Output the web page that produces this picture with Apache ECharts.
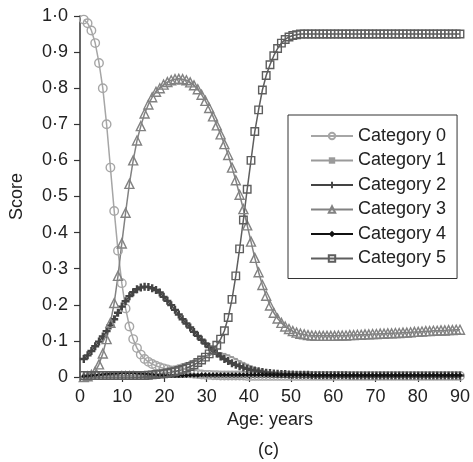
<!DOCTYPE html>
<html>
<head>
<meta charset="utf-8">
<script src="https://cdn.jsdelivr.net/npm/echarts@6/dist/echarts.min.js"></script>
<style>
  html, body { margin: 0; padding: 0; background: #fff; }
  #chart { width: 473px; height: 462px; }
</style>
</head>
<body>
<div id="chart"></div>
<script>
// ages: 100 samples from 0.9 to 90 years
const ages = Array.from({ length: 100 }, (_, i) => +((i + 1) * 0.9).toFixed(1));

const seriesNames = ['Category 0', 'Category 1', 'Category 2', 'Category 3', 'Category 4', 'Category 5'];

const cat0 = [
  0.99, 0.98, 0.96, 0.925, 0.87, 0.80, 0.70, 0.58, 0.46, 0.35,
  0.26, 0.19, 0.14, 0.105, 0.08, 0.062, 0.05, 0.042, 0.036, 0.031,
  0.027, 0.024, 0.021, 0.018, 0.016, 0.014, 0.012, 0.011, 0.010, 0.009,
  0.008, 0.007, 0.006, 0.006, 0.005, 0.005, 0.004, 0.004, 0.004, 0.004,
  0.004, 0.004, 0.004, 0.003, 0.003, 0.003, 0.003, 0.003, 0.003, 0.003,
  0.003, 0.003, 0.003, 0.003, 0.003, 0.003, 0.003, 0.003, 0.003, 0.003,
  0.003, 0.003, 0.003, 0.003, 0.003, 0.003, 0.003, 0.003, 0.003, 0.003,
  0.003, 0.003, 0.003, 0.003, 0.003, 0.003, 0.003, 0.003, 0.003, 0.003,
  0.003, 0.003, 0.003, 0.003, 0.003, 0.003, 0.003, 0.003, 0.003, 0.003,
  0.003, 0.003, 0.003, 0.003, 0.003, 0.003, 0.003, 0.003, 0.003, 0.003
];

const cat1 = [
  0.002, 0.002, 0.002, 0.002, 0.002, 0.002, 0.002, 0.002, 0.002, 0.002,
  0.002, 0.002, 0.002, 0.003, 0.003, 0.004, 0.006, 0.008, 0.011, 0.014,
  0.017, 0.020, 0.023, 0.026, 0.029, 0.032, 0.035, 0.038, 0.041, 0.045,
  0.049, 0.053, 0.057, 0.061, 0.064, 0.066, 0.066, 0.064, 0.060, 0.055,
  0.050, 0.044, 0.039, 0.034, 0.029, 0.025, 0.021, 0.018, 0.015, 0.013,
  0.011, 0.010, 0.009, 0.008, 0.007, 0.006, 0.006, 0.006, 0.006, 0.006,
  0.005, 0.005, 0.005, 0.005, 0.005, 0.005, 0.005, 0.005, 0.005, 0.005,
  0.005, 0.005, 0.005, 0.005, 0.005, 0.005, 0.005, 0.005, 0.005, 0.005,
  0.005, 0.005, 0.005, 0.005, 0.005, 0.005, 0.005, 0.005, 0.005, 0.005,
  0.005, 0.005, 0.005, 0.005, 0.005, 0.005, 0.005, 0.005, 0.005, 0.005
];

const cat2 = [
  0.05, 0.06, 0.072, 0.085, 0.098, 0.112, 0.127, 0.143, 0.16, 0.178,
  0.195, 0.21, 0.224, 0.235, 0.243, 0.248, 0.25, 0.249, 0.246, 0.241,
  0.234, 0.222, 0.211, 0.199, 0.186, 0.173, 0.16, 0.148, 0.137, 0.125,
  0.114, 0.103, 0.093, 0.083, 0.074, 0.065, 0.057, 0.05, 0.044, 0.038,
  0.034, 0.030, 0.026, 0.023, 0.020, 0.018, 0.016, 0.014, 0.012, 0.011,
  0.010, 0.009, 0.008, 0.008, 0.007, 0.007, 0.006, 0.006, 0.006, 0.006,
  0.005, 0.005, 0.005, 0.005, 0.005, 0.005, 0.005, 0.005, 0.005, 0.005,
  0.004, 0.004, 0.004, 0.004, 0.004, 0.004, 0.004, 0.004, 0.004, 0.004,
  0.004, 0.004, 0.004, 0.004, 0.004, 0.004, 0.004, 0.004, 0.004, 0.004,
  0.004, 0.004, 0.004, 0.004, 0.004, 0.004, 0.004, 0.004, 0.004, 0.004
];

const cat3 = [
  0.0, 0.002, 0.006, 0.015, 0.035, 0.065, 0.105, 0.15, 0.205, 0.28,
  0.37, 0.455, 0.535, 0.60, 0.655, 0.695, 0.73, 0.755, 0.775, 0.79,
  0.80, 0.81, 0.817, 0.822, 0.825, 0.826, 0.825, 0.822, 0.816, 0.808,
  0.797, 0.782, 0.765, 0.745, 0.722, 0.697, 0.672, 0.645, 0.615, 0.58,
  0.545, 0.505, 0.465, 0.42, 0.375, 0.33, 0.29, 0.255, 0.225, 0.198,
  0.178, 0.162, 0.15, 0.14, 0.133, 0.127, 0.123, 0.12, 0.118, 0.116,
  0.115, 0.114, 0.114, 0.114, 0.114, 0.114, 0.114, 0.115, 0.115, 0.115,
  0.116, 0.116, 0.117, 0.117, 0.118, 0.118, 0.119, 0.119, 0.12, 0.12,
  0.121, 0.121, 0.122, 0.122, 0.123, 0.123, 0.124, 0.125, 0.125, 0.126,
  0.127, 0.127, 0.128, 0.128, 0.129, 0.129, 0.13, 0.13, 0.131, 0.131
];

const cat4 = [
  0.002, 0.003, 0.004, 0.005, 0.006, 0.007, 0.008, 0.009, 0.010, 0.010,
  0.011, 0.011, 0.011, 0.011, 0.010, 0.010, 0.009, 0.008, 0.007, 0.006,
  0.005, 0.005, 0.004, 0.004, 0.004, 0.004, 0.004, 0.004, 0.005, 0.005,
  0.005, 0.006, 0.006, 0.006, 0.006, 0.006, 0.006, 0.006, 0.006, 0.006,
  0.006, 0.006, 0.006, 0.006, 0.006, 0.006, 0.006, 0.006, 0.006, 0.006,
  0.006, 0.006, 0.006, 0.006, 0.006, 0.006, 0.006, 0.006, 0.006, 0.006,
  0.005, 0.005, 0.005, 0.005, 0.005, 0.005, 0.005, 0.005, 0.005, 0.005,
  0.005, 0.005, 0.005, 0.005, 0.005, 0.005, 0.005, 0.005, 0.005, 0.005,
  0.005, 0.005, 0.005, 0.005, 0.005, 0.005, 0.005, 0.005, 0.005, 0.005,
  0.005, 0.005, 0.005, 0.005, 0.005, 0.005, 0.005, 0.005, 0.005, 0.005
];

const cat5 = [
  0.004, 0.004, 0.004, 0.004, 0.004, 0.004, 0.004, 0.004, 0.004, 0.004,
  0.004, 0.004, 0.004, 0.004, 0.004, 0.004, 0.004, 0.005, 0.006, 0.007,
  0.008, 0.009, 0.011, 0.013, 0.015, 0.018, 0.021, 0.025, 0.029, 0.034,
  0.04, 0.047, 0.055, 0.064, 0.075, 0.088, 0.105, 0.128, 0.165, 0.215,
  0.28, 0.355, 0.435, 0.52, 0.60, 0.68, 0.74, 0.795, 0.835, 0.865,
  0.89, 0.91, 0.925, 0.935, 0.942, 0.946, 0.948, 0.95, 0.95, 0.95,
  0.95, 0.95, 0.95, 0.95, 0.95, 0.95, 0.95, 0.95, 0.95, 0.95,
  0.95, 0.95, 0.95, 0.95, 0.95, 0.95, 0.95, 0.95, 0.95, 0.95,
  0.95, 0.95, 0.95, 0.95, 0.95, 0.95, 0.95, 0.95, 0.95, 0.95,
  0.95, 0.95, 0.95, 0.95, 0.95, 0.95, 0.95, 0.95, 0.95, 0.95
];

const yTicks = [0, 0.1, 0.2, 0.3, 0.4, 0.5, 0.6, 0.7, 0.8, 0.9, 1.0];

const FONT = '"Liberation Sans", Arial, sans-serif';
const PLUS = 'path://M3.5,0H6.5V3.5H10V6.5H6.5V10H3.5V6.5H0V3.5H3.5Z';

const styles = [
  { color: '#a6a6a6', symbol: 'circle', size: 8.5, hollow: true },
  { color: '#9a9a9a', symbol: 'rect', size: [4, 2], hollow: false },
  { color: '#444444', symbol: PLUS, size: 8, hollow: false },
  { color: '#828282', symbol: 'triangle', size: 9, hollow: true },
  { color: '#111111', symbol: 'diamond', size: 5, hollow: false },
  { color: '#5e5e5e', symbol: 'rect', size: 7.5, hollow: true }
];

const values = [cat0, cat1, cat2, cat3, cat4, cat5];

const series = values.map((vals, i) => {
  const s = styles[i];
  return {
    name: seriesNames[i],
    type: 'line',
    data: vals.map((v, j) => [ages[j], v]),
    symbol: s.symbol,
    symbolSize: s.size,
    showAllSymbol: true,
    lineStyle: { color: s.color, width: 1.5 },
    itemStyle: s.hollow
      ? { color: 'transparent', borderColor: s.color, borderWidth: 1.4 }
      : { color: s.color, borderWidth: 0 },
    emphasis: { disabled: true }
  };
});

const fmt = (v) => (v === 0 ? '0' : v.toFixed(1).replace('.', '·'));

const chart = echarts.init(document.getElementById('chart'));
chart.setOption({
  animation: false,
  backgroundColor: '#fff',
  textStyle: { fontFamily: FONT },
  title: {
    text: '(c)',
    left: 258,
    top: 441,
    padding: 0,
    textStyle: { fontFamily: FONT, fontSize: 18, fontWeight: 'normal', color: '#222' }
  },
  grid: { left: 75, right: 10, top: 16, bottom: 85 },
  legend: {
    orient: 'vertical',
    left: 288,
    top: 115,
    padding: [11, 11, 10, 22],
    borderColor: '#333',
    borderWidth: 1,
    itemWidth: 42,
    itemHeight: 8,
    itemGap: 4.5,
    textStyle: { fontFamily: FONT, fontSize: 18, color: '#222', lineHeight: 20 },
    data: seriesNames
  },
  xAxis: {
    type: 'value',
    min: 0,
    max: 90,
    interval: 10,
    name: 'Age: years',
    nameLocation: 'middle',
    nameGap: 32,
    nameTextStyle: { fontFamily: FONT, fontSize: 18, color: '#222' },
    axisLine: { lineStyle: { color: '#333', width: 1.5 } },
    axisTick: { length: 5, lineStyle: { color: '#333', width: 1.2 } },
    axisLabel: { margin: 11, fontSize: 18, color: '#222', fontFamily: FONT },
    splitLine: { show: false }
  },
  yAxis: {
    type: 'value',
    min: 0,
    max: 1,
    interval: 0.1,
    name: 'Score',
    nameLocation: 'middle',
    nameGap: 54,
    nameTextStyle: { fontFamily: FONT, fontSize: 18, color: '#222' },
    axisLine: { show: true, lineStyle: { color: '#333', width: 1.5 } },
    axisTick: { show: true, length: 6, lineStyle: { color: '#333', width: 1.2 } },
    axisLabel: {
      margin: 12,
      fontSize: 18,
      color: '#222',
      fontFamily: FONT,
      formatter: (v) => {
        const t = yTicks.find((y) => Math.abs(y - v) < 1e-6);
        return fmt(t === undefined ? v : t);
      }
    },
    splitLine: { show: false }
  },
  series: series
});
</script>
</body>
</html>
